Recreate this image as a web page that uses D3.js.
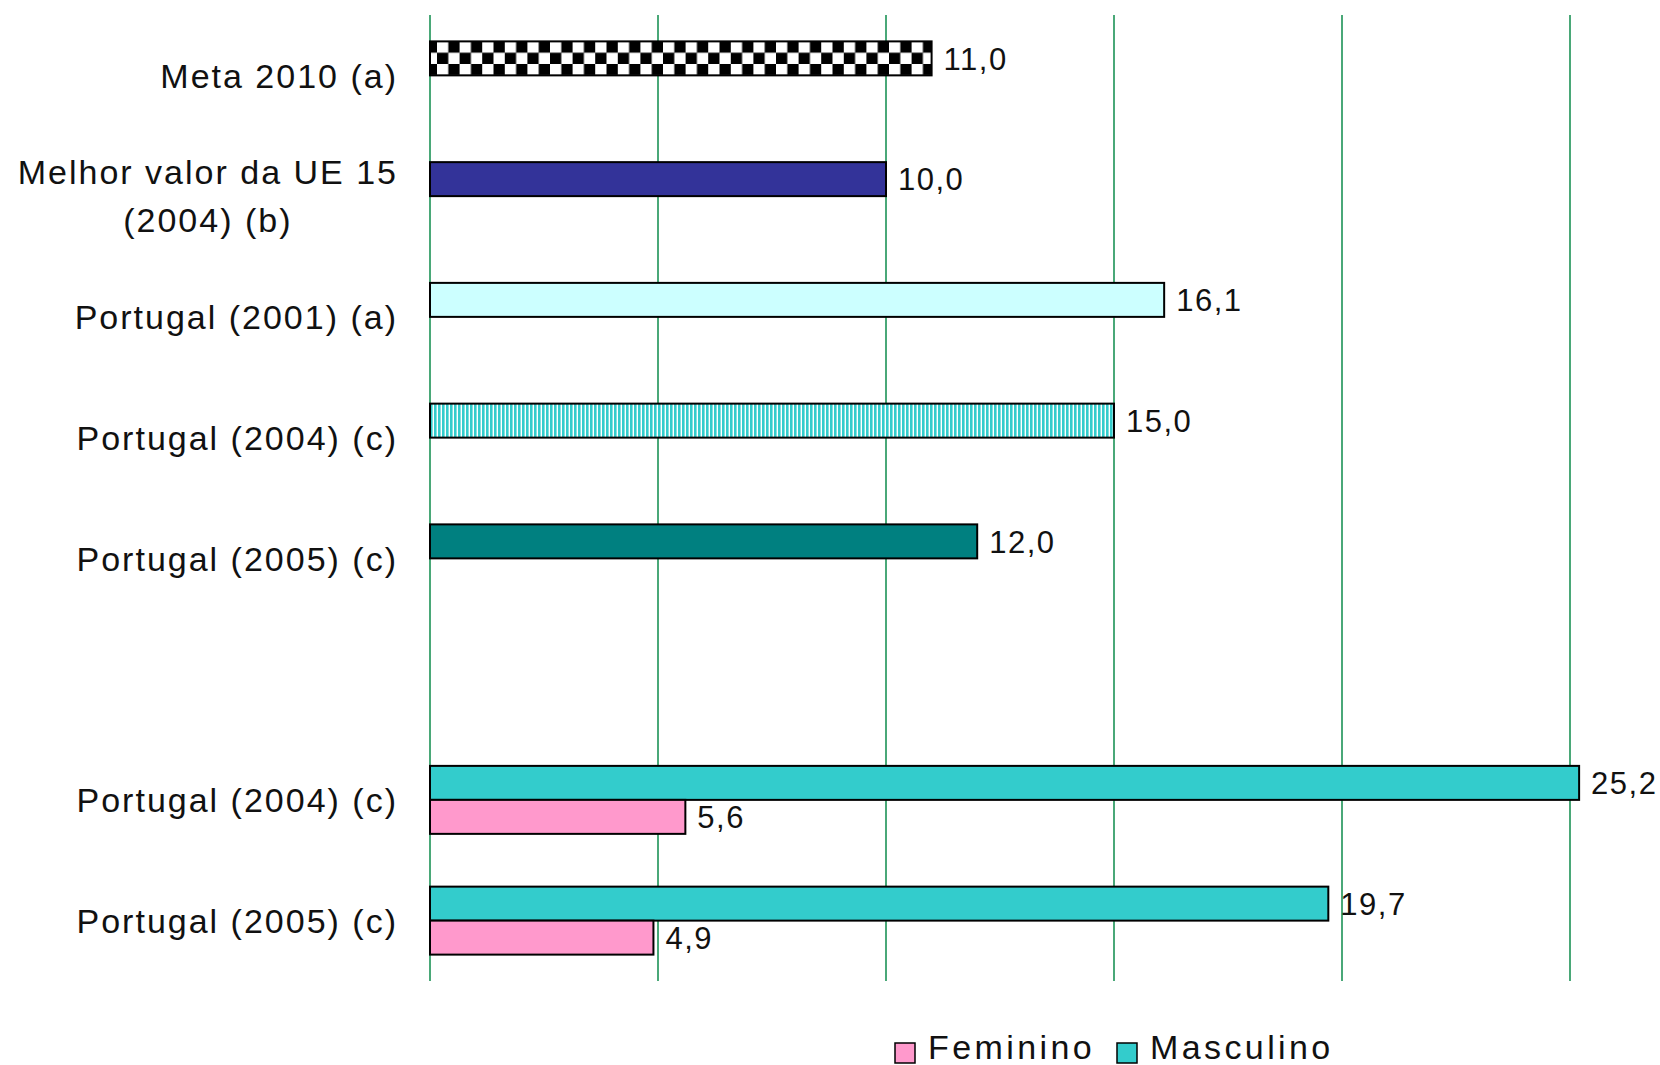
<!DOCTYPE html>
<html>
<head>
	<meta charset="utf-8">
	<script src="https://cdn.jsdelivr.net/npm/d3@7/dist/d3.min.js"></script>
	<title>Indicadores - barras</title>
	<style>
		body { margin: 0; background: #fff; }
		text { font-family: "Liberation Sans", Arial, sans-serif; fill: #111; }
	</style>
</head>
<body>
	<script type="text/javascript">

	// categories, top to bottom (the empty one is the gap before the split by sex)
	var categories = ["Meta 2010 (a)", "Melhor valor da UE 15|(2004) (b)", "Portugal (2001) (a)",
		"Portugal (2004) (c)", "Portugal (2005) (c)", "", "Portugal (2004) (c)", "Portugal (2005) (c)"];

	var totalValues = [11.0, 10.0, 16.1, 15.0, 12.0, null, null, null];
	var masculino   = [null, null, null, null, null, null, 25.2, 19.7];
	var feminino    = [null, null, null, null, null, null, 5.6, 4.9];

	var totalFills = ["url(#checker)", "#333399", "#CCFFFF", "url(#stripes)", "#008080"];
	var seriesNames = ["Masculino", "Feminino"];
	var seriesColors = { "Masculino": "#33CCCC", "Feminino": "#FF99CC" };
	var xTicks = [0, 5, 10, 15, 20, 25];

	var widthSvg = 1660;
	var heightSvg = 1065;

	var svg = d3.select("body")
		.append("svg")
		.attr("width", widthSvg)
		.attr("height", heightSvg);

	var defs = svg.append("defs");

	var yTop = 15, yBottom = 981;

	var xScale = d3.scaleLinear()
		.domain([0, 25])
		.range([430, 1570]);

	var yScale = d3.scaleBand()
		.domain(d3.range(categories.length))
		.range([yTop, yBottom])
		.paddingInner(0.437)
		.paddingOuter(0.2185);

	var slotScale = d3.scaleBand()
		.domain(seriesNames)
		.range([0, yScale.bandwidth()]);

	// patterns for the two hatched bars
	var checker = defs.append("pattern")
		.attr("id", "checker")
		.attr("patternUnits", "userSpaceOnUse")
		.attr("width", 22.6).attr("height", 22.6)
		.attr("x", 414.4).attr("y", yScale(0));
	checker.append("rect").attr("width", 22.6).attr("height", 22.6).attr("fill", "#000");
	checker.append("rect").attr("x", 0).attr("y", 0).attr("width", 11.3).attr("height", 11.3).attr("fill", "#fff");
	checker.append("rect").attr("x", 11.3).attr("y", 11.3).attr("width", 11.3).attr("height", 11.3).attr("fill", "#fff");

	var stripes = defs.append("pattern")
		.attr("id", "stripes")
		.attr("patternUnits", "userSpaceOnUse")
		.attr("width", 4).attr("height", 10)
		.attr("x", 430).attr("y", 0);
	stripes.append("rect").attr("width", 4).attr("height", 10).attr("fill", "#fff");
	stripes.append("rect").attr("width", 2.6).attr("height", 10).attr("fill", "#33CCCC");

	// vertical gridlines
	svg.selectAll("line.grid")
		.data(xTicks)
		.enter()
		.append("line")
		.attr("class", "grid")
		.attr("x1", function(d) { return xScale(d); })
		.attr("x2", function(d) { return xScale(d); })
		.attr("y1", yTop)
		.attr("y2", yBottom)
		.attr("stroke", "#4aa878")
		.attr("stroke-width", 2);

	// flat list of bars
	var bars = [];
	categories.forEach(function(c, i) {
		if (totalValues[i] != null) {
			bars.push({ cat: i, slot: seriesNames[0], value: totalValues[i], fill: totalFills[i] });
		}
		if (masculino[i] != null) {
			bars.push({ cat: i, slot: "Masculino", value: masculino[i], fill: seriesColors["Masculino"] });
		}
		if (feminino[i] != null) {
			bars.push({ cat: i, slot: "Feminino", value: feminino[i], fill: seriesColors["Feminino"] });
		}
	});

	svg.selectAll("rect.bar")
		.data(bars)
		.enter()
		.append("rect")
		.attr("class", "bar")
		.attr("x", xScale(0))
		.attr("y", function(d) { return yScale(d.cat) + slotScale(d.slot); })
		.attr("width", function(d) { return xScale(d.value) - xScale(0); })
		.attr("height", slotScale.bandwidth())
		.attr("fill", function(d) { return d.fill; })
		.attr("stroke", "#000")
		.attr("stroke-width", 2);

	var fmt = function(v) { return d3.format(".1f")(v).replace(".", ","); };

	svg.selectAll("text.value")
		.data(bars)
		.enter()
		.append("text")
		.attr("class", "value")
		.attr("x", function(d) { return xScale(d.value) + 12; })
		.attr("y", function(d) { return yScale(d.cat) + slotScale(d.slot) + slotScale.bandwidth() / 2; })
		.attr("dy", "0.36em")
		.attr("font-size", 31)
		.attr("letter-spacing", 1.5)
		.text(function(d) { return fmt(d.value); });

	// category labels, multi-line ones centred on each other
	var labelRight = 398;
	var labels = svg.selectAll("g.cat")
		.data(categories.map(function(c, i) { return { text: c, cat: i }; }).filter(function(d) { return d.text != ""; }))
		.enter()
		.append("g")
		.attr("class", "cat");

	labels.each(function(d) {
		var g = d3.select(this);
		var lines = d.text.split("|");
		var lineH = 48;
		var cy = yScale(d.cat) + yScale.bandwidth() / 2;
		var texts = g.selectAll("text")
			.data(lines)
			.enter()
			.append("text")
			.attr("y", function(t, j) { return cy + (j - (lines.length - 1) / 2) * lineH; })
			.attr("dy", "0.36em")
			.attr("font-size", 34)
			.attr("letter-spacing", 2)
			.text(function(t) { return t; });
		var widths = [];
		texts.each(function() { widths.push(this.getComputedTextLength()); });
		var maxW = d3.max(widths);
		texts.attr("text-anchor", "middle")
			.attr("x", labelRight - maxW / 2);
	});

	// legend
	var legendItems = [
		{ name: "Feminino", x: 895 },
		{ name: "Masculino", x: 1117 }
	];
	var legend = svg.selectAll("g.legend")
		.data(legendItems)
		.enter()
		.append("g")
		.attr("class", "legend")
		.attr("transform", function(d) { return "translate(" + d.x + ",1043)"; });

	legend.append("rect")
		.attr("width", 20)
		.attr("height", 20)
		.attr("fill", function(d) { return seriesColors[d.name]; })
		.attr("stroke", "#000")
		.attr("stroke-width", 1.5);

	legend.append("text")
		.attr("x", 33)
		.attr("y", 16)
		.attr("font-size", 34)
		.attr("letter-spacing", 3.4)
		.text(function(d) { return d.name; });

	</script>
</body>
</html>
